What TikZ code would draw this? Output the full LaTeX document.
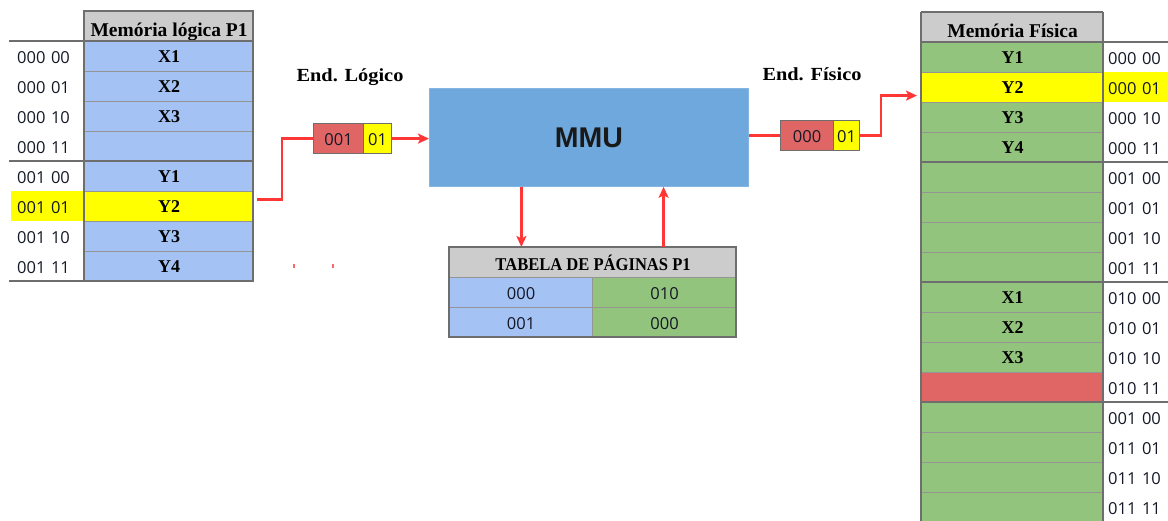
\documentclass[tikz,border=0pt]{standalone}
\usepackage{fontspec}
\setmainfont{Liberation Serif}
\newfontfamily\widefont[FakeStretch=1.1]{Liberation Serif}
\newfontfamily\narrowfont[FakeStretch=0.92]{Liberation Serif}
\newfontfamily\numfont{Open Sans}
\newfontfamily\mmufont{Liberation Sans}
\usetikzlibrary{arrows.meta,calc}

\definecolor{cellblue}{HTML}{A4C2F4}
\definecolor{cellgreen}{HTML}{93C47D}
\definecolor{cellred}{HTML}{E06666}
\definecolor{cellyellow}{HTML}{FFFF00}
\definecolor{headgray}{HTML}{CCCCCC}
\definecolor{mmublue}{HTML}{6FA8DC}
\definecolor{gridline}{HTML}{959595}
\definecolor{groupline}{HTML}{6E6E6E}
\definecolor{linkred}{HTML}{FF3636}
\definecolor{inktext}{HTML}{141826}

\begin{document}
\begin{tikzpicture}[x=1pt,y=-1pt,
  cell/.style={draw=gridline, line width=1.2pt, inner sep=0pt, anchor=north west,
    minimum height=30pt, text height=13pt, text depth=1.5pt,
    font=\fontsize{18}{21}\selectfont\bfseries},
  headcell/.style={cell, fill=headgray, text height=19pt, text depth=0pt,
    font=\fontsize{19.5}{22}\selectfont\bfseries},
  addr/.style={anchor=north west, minimum height=30pt, inner ysep=0pt, inner xsep=0pt,
    text height=15pt, text depth=0.5pt, align=left, text=inktext,
    font=\numfont\fontsize{16.5}{19}\selectfont},
  addrbox/.style={draw=groupline, line width=1.2pt, inner sep=0pt, anchor=north west,
    minimum height=30pt, text height=15pt, text depth=1pt, text=inktext,
    font=\numfont\fontsize{16.5}{19}\selectfont},
  ptcell/.style={cell, text height=15pt, text depth=0.5pt,
    font=\numfont\fontsize{16.5}{19}\selectfont, text=inktext},
  group/.style={draw=groupline, line width=1.5pt},
  lbl/.style={anchor=base, font=\widefont\fontsize{18.5}{22}\selectfont\bfseries, text=black},
  link/.style={draw=linkred, line width=2.4pt},
  linkarrow/.style={link, -{Stealth[length=11pt,width=10pt,inset=2.5pt]}}
]
\useasboundingbox (0,0) rectangle (1168,520);

% ---- logical memory of P1 ----
\node[headcell, minimum width=169pt] (lhead) at (84,11) {Memória lógica P1};
\foreach \t/\c/\a/\ac [count=\i from 0] in
  {X1/cellblue/000 00/white, X2/cellblue/000 01/white, X3/cellblue/000 10/white,
   {}/cellblue/000 11/white, Y1/cellblue/001 00/white, Y2/cellyellow/001 01/cellyellow,
   Y3/cellblue/001 10/white, Y4/cellblue/001 11/white}
{
  \node[addr, fill=\ac, text width=61pt, minimum width=73pt, inner xsep=6pt]
    (LA\i) at (11,{41+30*\i}) {\a};
  \node[cell, fill=\c, minimum width=169pt] (L\i) at (84,{41+30*\i}) {\t};
}
\draw[group] (84,11) rectangle (253,281);
\foreach \y in {41,161,281} \draw[group] (9,\y) -- (253,\y);

% ---- physical memory ----
\node[headcell, minimum width=182pt] (rhead) at (921,12) {Memória Física};
\foreach \t/\c/\a/\ac [count=\i from 0] in
  {Y1/cellgreen/000 00/white, Y2/cellyellow/000 01/cellyellow,
   Y3/cellgreen/000 10/white, Y4/cellgreen/000 11/white,
   {}/cellgreen/001 00/white, {}/cellgreen/001 01/white,
   {}/cellgreen/001 10/white, {}/cellgreen/001 11/white,
   X1/cellgreen/010 00/white, X2/cellgreen/010 01/white,
   X3/cellgreen/010 10/white, {}/cellred/010 11/white,
   {}/cellgreen/001 00/white, {}/cellgreen/011 01/white,
   {}/cellgreen/011 10/white, {}/cellgreen/011 11/white}
{
  \node[addr, fill=\ac, text width=55pt, minimum width=65pt, inner xsep=5pt]
    (RA\i) at (1103,{42+30*\i}) {\a};
  \node[cell, fill=\c, minimum width=182pt] (R\i) at (921,{42+30*\i}) {\t};
}
\draw[group] (921,12) -- (921,530) (1103,12) -- (1103,530) (921,12) -- (1103,12);
\foreach \y in {42,162,282,402} \draw[group] (921,\y) -- (1168,\y);

% ---- MMU ----
\node[fill=mmublue, draw=mmublue!85!white, line width=0.8pt, anchor=north west,
  minimum width=319pt, minimum height=98pt, inner sep=0pt,
  font=\mmufont\fontsize{28.5}{32}\selectfont\bfseries, text=black!90] (mmu) at (429,88) {MMU};

% ---- page table of P1 ----
\node[headcell, minimum width=287pt, text height=16pt, text depth=0pt,
  font=\narrowfont\fontsize{18}{21}\selectfont\bfseries]
  (ptab) at (449,247) {TABELA DE PÁGINAS P1};
\node[ptcell, fill=cellblue, minimum width=143pt] (pt00) at (449,277) {000};
\node[ptcell, fill=cellgreen, minimum width=144pt] (pt01) at (592,277) {010};
\node[ptcell, fill=cellblue, minimum width=143pt] (pt10) at (449,307) {001};
\node[ptcell, fill=cellgreen, minimum width=144pt] (pt11) at (592,307) {000};
\draw[draw=groupline, line width=1.4pt] (449,247) rectangle (736,337);

% ---- addresses ----
\node[lbl] (endlog) at (350,81.5) {End. Lógico};
\node[lbl] (endfis) at (812,80.5) {End. Físico};
\node[addrbox, fill=cellred, minimum width=50pt] (lpg) at (313,123) {001};
\node[addrbox, fill=cellyellow, minimum width=28pt] (loff) at (363,123) {01};
\node[addrbox, fill=cellred, minimum width=53pt] (ppg) at (780,120) {000};
\node[addrbox, fill=cellyellow, minimum width=26pt] (poff) at (833,120) {01};

% ---- connectors ----
\draw[link] ([xshift=3pt,yshift=7pt]L5.east) -- ++(25,0) |- (lpg.west);
\draw[linkarrow] (loff.east) -- (loff.east -| mmu.west);
\coordinate (dnTop) at ([xshift=-67.5pt]mmu.south);
\draw[linkarrow] (dnTop) -- (dnTop |- ptab.north);
\coordinate (upBase) at ([xshift=70.5pt]ptab.north);
\draw[linkarrow] (upBase) -- (upBase |- mmu.south);
\draw[link] (mmu.east |- ppg.west) -- (ppg.west);
\draw[linkarrow, shorten >=4pt] (poff.east) -- ++(21,0) |- ([yshift=-8pt]R1.west);

% small red specks below the connector
\fill[linkred!75] (293,264) rectangle (295,268);
\fill[linkred!75] (332,264) rectangle (334,268);
\end{tikzpicture}
\end{document}
